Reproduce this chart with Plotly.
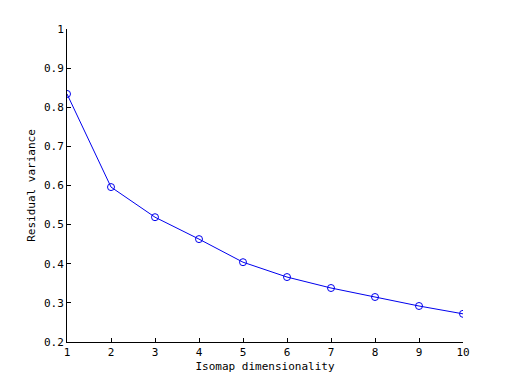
import plotly.graph_objects as go

dims = [1, 2, 3, 4, 5, 6, 7, 8, 9, 10]
residual = [0.834, 0.596, 0.519, 0.463, 0.404, 0.366, 0.338, 0.315, 0.292, 0.272]
yticks = [0.2, 0.3, 0.4, 0.5, 0.6, 0.7, 0.8, 0.9, 1.0]
yticktext = ["0.2", "0.3", "0.4", "0.5", "0.6", "0.7", "0.8", "0.9", "1"]

fig = go.Figure()
fig.add_trace(go.Scatter(
    x=dims, y=residual, mode="lines+markers",
    line=dict(color="#0000ee", width=1),
    marker=dict(symbol="circle-open", size=7, color="#0000ee", line=dict(width=1)),
))

font = dict(family="DejaVu Sans Mono", size=11, color="black")
fig.update_layout(
    width=512, height=384,
    margin=dict(l=59, r=57, t=21, b=50),
    paper_bgcolor="white", plot_bgcolor="white",
    showlegend=False,
    font=font,
    xaxis=dict(
        range=[1, 10], tickvals=dims, ticks="inside", ticklen=4, tickcolor="black",
        showline=True, linecolor="black", linewidth=1, showgrid=False, zeroline=False,
        title=dict(text="Isomap dimensionality", font=font, standoff=4),
    ),
    yaxis=dict(
        range=[0.2, 1.0], tickvals=yticks, ticktext=yticktext, ticks="inside", ticklen=4,
        tickcolor="black", showline=True, linecolor="black", linewidth=1, showgrid=False,
        zeroline=False,
        title=dict(text="Residual variance", font=font, standoff=6),
    ),
)
fig.write_html("out.html")
